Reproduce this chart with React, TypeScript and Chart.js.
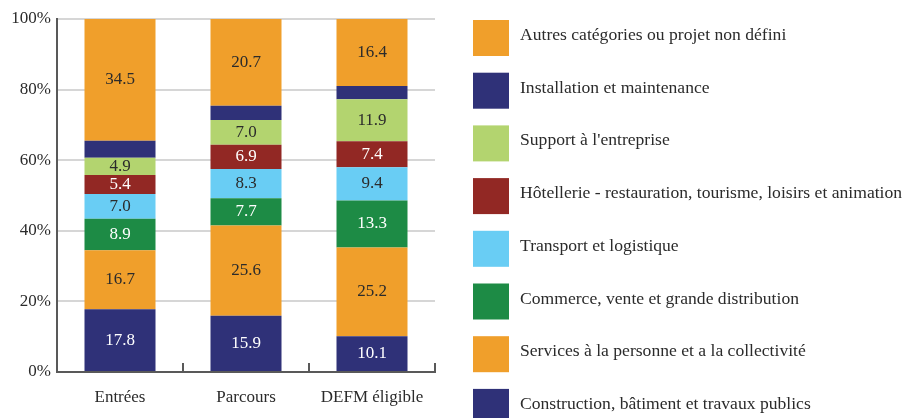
import React, { useEffect, useRef } from "react";
import { Chart, registerables } from "chart.js";
Chart.register(...registerables);

const categories = ["Entrées", "Parcours", "DEFM éligible"];

const construction = [17.8, 15.9, 10.1];
const services = [16.7, 25.6, 25.2];
const commerce = [8.9, 7.7, 13.3];
const transport = [7.0, 8.3, 9.4];
const hotellerie = [5.4, 6.9, 7.4];
const support = [4.9, 7.0, 11.9];
const installation = [4.8, 4.0, 3.7];
const autres = [34.5, 24.6, 19.0];
const autresLabels = ["34.5", "20.7", "16.4"];

const yTicks = [0, 20, 40, 60, 80, 100];

const FONT = '"Liberation Serif", "Times New Roman", serif';
const TEXT = "#2b2b2b";

type Series = {
  label: string;
  data: number[];
  color: string;
  labelColor: string | null;
  texts?: string[];
};

const series: Series[] = [
  { label: "Construction, bâtiment et travaux publics", data: construction, color: "#2f3178", labelColor: "#ffffff" },
  { label: "Services à la personne et a la collectivité", data: services, color: "#f09f2b", labelColor: TEXT },
  { label: "Commerce, vente et grande distribution", data: commerce, color: "#1d8b45", labelColor: "#ffffff" },
  { label: "Transport et logistique", data: transport, color: "#69cdf4", labelColor: TEXT },
  { label: "Hôtellerie - restauration, tourisme, loisirs et animation", data: hotellerie, color: "#922824", labelColor: "#ffffff" },
  { label: "Support à l'entreprise", data: support, color: "#b3d46f", labelColor: TEXT },
  { label: "Installation et maintenance", data: installation, color: "#2f3178", labelColor: null },
  { label: "Autres catégories ou projet non défini", data: autres, color: "#f09f2b", labelColor: TEXT, texts: autresLabels },
];

const labelPlugin = {
  id: "segLabels",
  afterDatasetsDraw(chart: any) {
    const ctx = chart.ctx;
    ctx.save();
    ctx.font = `17px ${FONT}`;
    ctx.textAlign = "center";
    ctx.textBaseline = "middle";
    series.forEach((s, i) => {
      if (!s.labelColor) return;
      const meta = chart.getDatasetMeta(i);
      meta.data.forEach((bar: any, j: number) => {
        const { x, y, base } = bar.getProps(["x", "y", "base"], true);
        const txt = s.texts ? s.texts[j] : s.data[j].toFixed(1);
        ctx.fillStyle = s.labelColor;
        ctx.fillText(txt, x, (y + base) / 2);
      });
    });
    ctx.restore();
  },
};

const extrasPlugin = {
  id: "extras",
  afterDraw(chart: any) {
    const ctx = chart.ctx;
    const { left, right, bottom } = chart.chartArea;
    ctx.save();
    // upward tick marks at category boundaries
    ctx.strokeStyle = "#595959";
    ctx.lineWidth = 2;
    const n = categories.length;
    for (let k = 1; k <= n; k++) {
      const x = left + (k * (right - left)) / n;
      ctx.beginPath();
      ctx.moveTo(x, bottom);
      ctx.lineTo(x, bottom - 9);
      ctx.stroke();
    }
    // legend
    ctx.font = `17.6px ${FONT}`;
    ctx.textAlign = "left";
    ctx.textBaseline = "alphabetic";
    const rev = [...series].reverse();
    rev.forEach((s, k) => {
      const y = 20 + k * 52.7;
      ctx.fillStyle = s.color;
      ctx.fillRect(473, y, 36, 36);
      ctx.fillStyle = TEXT;
      ctx.fillText(s.label, 520, y + 20);
    });
    ctx.restore();
  },
};

export default function App() {
  const ref = useRef<HTMLCanvasElement>(null);
  useEffect(() => {
    document.body.style.margin = "0";
    const canvas = ref.current!;
    const chart = new Chart(canvas, {
      type: "bar",
      data: {
        labels: categories,
        datasets: series.map((s) => ({
          label: s.label,
          data: s.data,
          backgroundColor: s.color,
          borderWidth: 0,
          categoryPercentage: 1,
          barPercentage: 0.5635,
        })),
      },
      options: {
        animation: false,
        responsive: false,
        maintainAspectRatio: false,
        layout: { padding: { top: 19, right: 472, left: 0, bottom: 0 } },
        plugins: { legend: { display: false }, tooltip: { enabled: false } },
        scales: {
          x: {
            stacked: true,
            grid: { display: false, drawTicks: false },
            border: { display: true, color: "#595959", width: 2 },
            ticks: { padding: 15, color: TEXT, font: { family: FONT, size: 17 } },
            afterFit: (s: any) => {
              s.height = 46;
            },
          },
          y: {
            stacked: true,
            min: 0,
            max: 100,
            afterBuildTicks: (s: any) => {
              s.ticks = yTicks.map((v) => ({ value: v }));
            },
            ticks: {
              callback: (v: any) => v + "%",
              padding: 6,
              color: TEXT,
              font: { family: FONT, size: 17 },
            },
            grid: {
              color: (c: any) => (c.tick && c.tick.value === 0 ? "#595959" : "#d6d6d6"),
              lineWidth: 2,
              drawTicks: false,
            },
            border: { color: "#595959", width: 2 },
            afterFit: (s: any) => {
              s.width = 57;
            },
          },
        },
      },
      plugins: [labelPlugin, extrasPlugin],
    });
    return () => chart.destroy();
  }, []);
  return (
    <div style={{ width: 907, height: 418, overflow: "hidden" }}>
      <canvas ref={ref} width={907} height={418} style={{ display: "block" }} />
    </div>
  );
}
